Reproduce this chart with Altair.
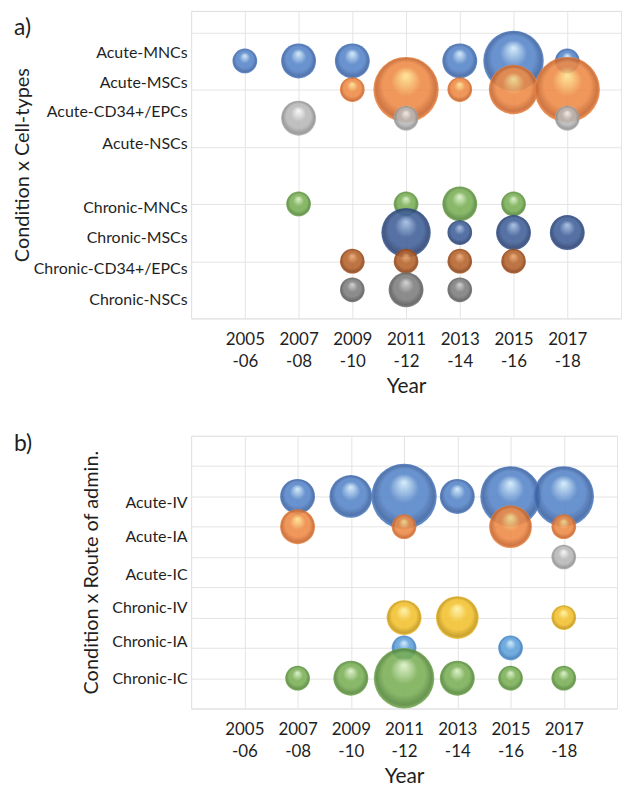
import altair as alt
import pandas as pd

# ---------------- data ----------------
years = ["2005-06", "2007-08", "2009-10", "2011-12", "2013-14", "2015-16", "2017-18"]

a_categories = ["Acute-MNCs", "Acute-MSCs", "Acute-CD34+/EPCs", "Acute-NSCs",
                "Chronic-MNCs", "Chronic-MSCs", "Chronic-CD34+/EPCs", "Chronic-NSCs"]
a_rows = [9, 8, 7, 6, 4, 3, 2, 1]
a_counts = [
    [1, 2, 2, 0, 2, 6, 1],   # Acute-MNCs
    [0, 0, 1, 7, 1, 4, 7],   # Acute-MSCs
    [0, 2, 0, 1, 0, 0, 1],   # Acute-CD34+/EPCs
    [0, 0, 0, 0, 0, 0, 0],   # Acute-NSCs
    [0, 1, 0, 1, 2, 1, 0],   # Chronic-MNCs
    [0, 0, 0, 4, 1, 2, 2],   # Chronic-MSCs
    [0, 0, 1, 1, 1, 1, 0],   # Chronic-CD34+/EPCs
    [0, 0, 1, 2, 1, 0, 0],   # Chronic-NSCs
]

b_categories = ["Acute-IV", "Acute-IA", "Acute-IC", "Chronic-IV", "Chronic-IA", "Chronic-IC"]
b_rows = [7, 6, 5, 3, 2, 1]
b_counts = [
    [0, 2, 3, 7, 2, 6, 6],   # Acute-IV
    [0, 2, 0, 1, 0, 3, 1],   # Acute-IA
    [0, 0, 0, 0, 0, 0, 1],   # Acute-IC
    [0, 0, 0, 2, 3, 0, 1],   # Chronic-IV
    [0, 0, 0, 1, 0, 1, 0],   # Chronic-IA
    [0, 1, 2, 6, 2, 1, 1],   # Chronic-IC
]

# ---------------- styles ----------------
BLUE = ("#D2ECFB", "#5584C8", "#3A60A0")
ORANGE = ("#FFE58E", "#EE8A45", "#C7622A")
SILVER = ("#FAFAFA", "#B7B7B7", "#8C8C8C")
YELLOW = ("#FFF4A6", "#F2C12E", "#C39514")
GREEN = ("#DDF3C8", "#79AE55", "#528538")
DBLUE = ("#A3BDE3", "#3F5F98", "#293F70")
BROWN = ("#EDA874", "#B5622A", "#873F16")
DGRAY = ("#D0D0D0", "#7C7C7C", "#575757")
LBLUE = ("#D2EEFF", "#5FA0DA", "#3978B5")

a_palette = [BLUE, ORANGE, SILVER, YELLOW, GREEN, DBLUE, BROWN, DGRAY]
b_palette = [BLUE, ORANGE, SILVER, YELLOW, LBLUE, GREEN]

# label nudges (px) reproducing the hand-placed text boxes of the original
a_label_nudge = [-8, -7, -7, -3, 4, 5, 7, 10]
b_label_nudge = [6, 10, 18, -10, -6, 0]

FONT = "Lato"
TXT = "#1f1f1f"
GRID = "#E4E4E4"


def grad(p):
    light, base, dark = p
    return alt.RadialGradient(
        gradient="radial",
        stops=[
            alt.GradientStop(color=light, offset=0.0),
            alt.GradientStop(color=base, offset=0.45),
            alt.GradientStop(color=base, offset=0.7),
            alt.GradientStop(color=dark, offset=0.92),
            alt.GradientStop(color=base, offset=1.0),
        ],
        x1=0.5, y1=0.28, r1=0.0, x2=0.5, y2=0.5, r2=0.5,
    )


def x_label_expr():
    parts = []
    for i, y in enumerate(years):
        a, b = y.split("-")
        parts.append(f"datum.value === {i + 1} ? ['{a}', '-{b}']")
    return " : ".join(parts) + " : ''"


def y_label_expr(cats, rows):
    parts = [f"datum.value === {r} ? '{c}'" for c, r in zip(cats, rows)]
    return " : ".join(parts) + " : ''"


def panel(cats, rows, counts, palette, nudges, ydom, ymax, grid_cond, ytitle, tag,
          width, height, title_pad, tag_x, tag_y):
    xscale = alt.Scale(domain=[0, len(years) + 1], nice=False, zero=False)
    yscale = alt.Scale(domain=[0, ydom], nice=False, zero=False)
    sscale = alt.Scale(type="linear", domain=[0, 7], range=[0, 4312])
    x_axis = alt.Axis(values=list(range(len(years) + 2)), labelExpr=x_label_expr(),
                      title="Year", grid=True, gridColor=GRID, ticks=False, domain=False,
                      labelFont=FONT, labelFontSize=17, labelColor=TXT, labelPadding=13,
                      labelLineHeight=22, labelFlush=False, labelAngle=0,
                      titleFont=FONT, titleFontSize=21, titleFontWeight="normal",
                      titleColor=TXT, titlePadding=6)
    offset_cond = {
        "condition": [{"test": f"datum.value === {r}", "value": d}
                      for r, d in zip(rows, nudges) if d != 0],
        "value": 0,
    }
    y_kwargs = dict(values=list(range(ymax + 1)), labelExpr=y_label_expr(cats, rows),
                    title=ytitle, grid=True, gridColor=GRID, ticks=False, domain=False,
                    labelFont=FONT, labelFontSize=16, labelColor=TXT, labelPadding=4,
                    labelFlush=False, labelOffset=offset_cond,
                    titleFont=FONT, titleFontSize=20,
                    titleFontWeight="normal", titleColor=TXT, titlePadding=title_pad)
    if grid_cond is not None:
        y_kwargs["gridOpacity"] = {"condition": {"test": grid_cond, "value": 1}, "value": 0}
    y_axis = alt.Axis(**y_kwargs)

    layers = []
    for cat, r, cnt, p in zip(cats, rows, counts, palette):
        recs = [{"x": i + 1, "y": r, "n": n, "year": years[i], "group": cat}
                for i, n in enumerate(cnt) if n > 0]
        if not recs:
            continue
        df = pd.DataFrame(recs)
        layers.append(
            alt.Chart(df).mark_circle(fill=grad(p), opacity=0.88).encode(
                x=alt.X("x:Q", scale=xscale, axis=x_axis),
                y=alt.Y("y:Q", scale=yscale, axis=y_axis),
                size=alt.Size("n:Q", scale=sscale, legend=None),
            )
        )
    tag_layer = alt.Chart(pd.DataFrame({"t": [tag]})).mark_text(
        align="left", baseline="middle", font=FONT, fontSize=23, color=TXT
    ).encode(text="t:N", x=alt.value(tag_x), y=alt.value(tag_y))
    layers.append(tag_layer)
    return alt.layer(*layers).properties(width=width, height=height)


chart_a = panel(a_categories, a_rows, a_counts, a_palette, a_label_nudge, 10.75, 10,
                "datum.value % 2 === 0", "Condition x Cell-types", "a)",
                432, 309, 1, -178, 17)
chart_b = panel(b_categories, b_rows, b_counts, b_palette, b_label_nudge, 9, 9, None,
                "Condition x Route of admin.", "b)", 428, 274, 10, -178, 8)

chart = alt.vconcat(chart_a, chart_b, spacing=35,
                    padding={"left": 3, "top": 0, "right": 0, "bottom": 0}
                    ).configure_view(stroke=None).configure(background="white")

chart.save("out.html", embed_options={"renderer": "svg", "actions": False})
